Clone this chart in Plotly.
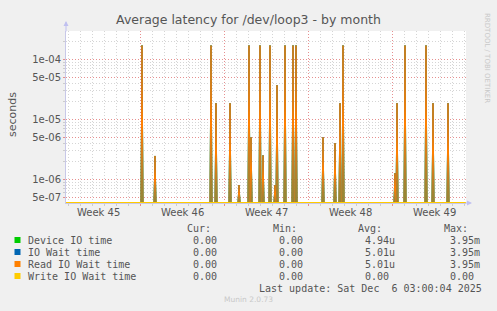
import plotly.graph_objects as go
import pandas as pd

# ---------------- data ----------------
start_time = "2025-11-02 19:00"
end_time = "2025-12-06 03:00"

spike_times = [
    "2025-11-09 03:00", "2025-11-10 05:00", "2025-11-14 21:00", "2025-11-15 07:00",
    "2025-11-16 11:00", "2025-11-17 05:00", "2025-11-18 01:00", "2025-11-18 05:00",
    "2025-11-18 23:00", "2025-11-19 05:00", "2025-11-19 19:00", "2025-11-20 05:00",
    "2025-11-20 09:00", "2025-11-21 01:00", "2025-11-21 17:00", "2025-11-21 23:00",
    "2025-11-24 05:00", "2025-11-25 05:00", "2025-11-25 15:00", "2025-11-25 21:00",
    "2025-11-30 05:00", "2025-11-30 09:00", "2025-12-01 01:00", "2025-12-02 19:00",
    "2025-12-03 09:00", "2025-12-04 15:00",
]
device_io_time = [
    1.7e-4, 2.45e-6, 1.7e-4, 1.85e-5,
    1.85e-5, 8e-7, 1.7e-4, 5e-6,
    1.7e-4, 2.5e-6, 1.7e-4, 8e-7,
    3.7e-5, 1.7e-4, 1.7e-4, 1.7e-4,
    5e-6, 4e-6, 1.85e-5, 1.7e-4,
    1.26e-6, 1.85e-5, 1.7e-4, 1.7e-4,
    1.85e-5, 1.85e-5,
]
io_wait_time = list(device_io_time)
read_io_wait_time = list(device_io_time)
write_io_wait_time = [0.0] * len(spike_times)

week_bounds = ["2025-11-09", "2025-11-16", "2025-11-23", "2025-11-30"]
week_label_pos = ["2025-11-05 12:00", "2025-11-12 12:00", "2025-11-19 12:00",
                  "2025-11-26 12:00", "2025-12-03 12:00"]
week_labels = ["Week 45", "Week 46", "Week 47", "Week 48", "Week 49"]

y_tickvals = [5e-7, 1e-6, 5e-6, 1e-5, 5e-5, 1e-4]
y_ticktext = ["5e-07", "1e-06", "5e-06", "1e-05", "5e-05", "1e-04"]

legend_names = ["Device IO time", "IO Wait time", "Read IO Wait time", "Write IO Wait time"]
legend_colors = ["#00CC00", "#0066B3", "#FF8000", "#FFCC00"]
cur_vals = ["0.00", "0.00", "0.00", "0.00"]
min_vals = ["0.00", "0.00", "0.00", "0.00"]
avg_vals = ["4.94u", "5.01u", "5.01u", "0.00"]
max_vals = ["3.95m", "3.95m", "3.95m", "0.00"]
last_update = "Last update: Sat Dec\u00a0\u00a06 03:00:04 2025"

# ---------------- geometry ----------------
W, H = 497, 311
ML, MR, MT, MB = 66, 31, 31, 108
PW, PH = W - ML - MR, H - MT - MB
Y_RANGE = [-6.395, -3.528]
FLOOR = 10 ** (-6.387)


def px(x):
    return (x - ML) / PW


def py(y):
    return (H - MB - y) / PH


grid = pd.date_range(start_time, end_time, freq="2h")


def build(vals):
    s = pd.Series(0.0, index=grid)
    for t, v in zip(spike_times, vals):
        s[pd.Timestamp(t)] = v
    return s.where(s > 0, FLOOR)


fig = go.Figure()
# floor baseline (for the shaded spike bodies)
base = pd.Series(FLOOR, index=grid)
fig.add_trace(go.Scatter(x=base.index, y=base.values, mode="lines",
                         line=dict(width=0), showlegend=False, hoverinfo="skip"))
fills = ["rgba(150,140,40,0.75)", None, None, None]
for name, vals, col, fc in zip(legend_names,
                               [device_io_time, io_wait_time, read_io_wait_time, write_io_wait_time],
                               legend_colors, fills):
    s = build(vals)
    kw = {}
    if fc:
        kw = dict(fill="tonexty", fillcolor=fc)
    fig.add_trace(go.Scatter(x=s.index, y=s.values, mode="lines", name=name,
                             line=dict(color=col, width=1), showlegend=False,
                             hoverinfo="skip", **kw))

GRAY_GRID = "rgba(190,190,190,0.65)"
RED_GRID = "rgba(235,120,120,0.75)"
TXT = "#555555"
MONO = "DejaVu Sans Mono"
SANS = "DejaVu Sans"

fig.update_layout(
    width=W, height=H,
    margin=dict(l=ML, r=MR, t=MT, b=MB),
    paper_bgcolor="#F0F0F0", plot_bgcolor="#FFFFFF",
    title=dict(text="Average latency for /dev/loop3 - by month",
               x=0.5, xref="container", xanchor="center",
               y=1 - 19.5 / H, yref="container", yanchor="middle",
               font=dict(family=SANS, size=12.5, color=TXT)),
    xaxis=dict(type="date", range=[start_time, end_time],
               tickmode="array", tickvals=week_bounds, showticklabels=False,
               showgrid=True, gridcolor=RED_GRID, griddash="1px,2px", gridwidth=1,
               ticks="outside", ticklen=2, tickcolor=RED_GRID,
               showline=True, linecolor="#C8C8E8", linewidth=1, zeroline=False,
               minor=dict(dtick=86400000, tick0="2025-11-03", showgrid=True,
                          gridcolor=GRAY_GRID, griddash="1px,2px", gridwidth=1,
                          ticks="outside", ticklen=2, tickcolor="#CCCCCC")),
    yaxis=dict(type="log", range=Y_RANGE,
               tickmode="array", tickvals=y_tickvals, ticktext=y_ticktext,
               tickfont=dict(family=SANS, size=10, color=TXT),
               showgrid=True, gridcolor=RED_GRID, griddash="1px,2px", gridwidth=1,
               ticks="outside", ticklen=2, tickcolor=RED_GRID,
               showline=True, linecolor="#C8C8E8", linewidth=1, zeroline=False,
               minor=dict(dtick="D1", showgrid=True,
                          gridcolor=GRAY_GRID, griddash="1px,2px", gridwidth=1,
                          ticks="outside", ticklen=2, tickcolor="#CCCCCC")),
)

ann = []
ann.append(dict(text="seconds", xref="paper", yref="paper", x=px(12), y=py(115),
                showarrow=False, textangle=-90, xanchor="center", yanchor="middle",
                font=dict(family=SANS, size=11, color=TXT)))
for pos, lab in zip(week_label_pos, week_labels):
    ann.append(dict(text=lab, xref="x", yref="paper", x=pos, y=py(212.5),
                    showarrow=False, xanchor="center", yanchor="middle",
                    font=dict(family=SANS, size=10, color=TXT)))
for txt, xr in zip(["Cur:", "Min:", "Avg:", "Max:"], [213, 299, 384, 470]):
    ann.append(dict(text=txt, xref="paper", yref="paper", x=px(xr), y=py(228),
                    showarrow=False, xanchor="right", yanchor="middle",
                    font=dict(family=MONO, size=10, color=TXT)))
row_y = [240, 252, 264, 276]
shapes = []
for i, (name, col) in enumerate(zip(legend_names, legend_colors)):
    yy = row_y[i]
    shapes.append(dict(type="rect", xref="paper", yref="paper",
                       x0=px(14.5), x1=px(20.5), y0=py(yy + 3), y1=py(yy - 3),
                       fillcolor=col, line=dict(width=0)))
    ann.append(dict(text=name, xref="paper", yref="paper", x=px(26), y=py(yy),
                    showarrow=False, xanchor="left", yanchor="middle",
                    font=dict(family=MONO, size=10, color=TXT)))
    for vals, xr in zip([cur_vals, min_vals, avg_vals, max_vals], [225, 311, 397, 482]):
        v = vals[i]
        if not v[-1].isalpha():
            v = v + "\u00a0"
        ann.append(dict(text=v, xref="paper", yref="paper", x=px(xr), y=py(yy),
                        showarrow=False, xanchor="right", yanchor="middle",
                        font=dict(family=MONO, size=10, color=TXT)))
ann.append(dict(text=last_update, xref="paper", yref="paper", x=px(483.5), y=py(288),
                showarrow=False, xanchor="right", yanchor="middle",
                font=dict(family=MONO, size=10, color=TXT)))
ann.append(dict(text="Munin 2.0.73", xref="paper", yref="paper", x=px(248), y=py(299.5),
                showarrow=False, xanchor="center", yanchor="middle",
                font=dict(family=SANS, size=7.5, color="#C8C8C8")))
ann.append(dict(text="RRDTOOL / TOBI OETIKER", xref="paper", yref="paper", x=px(487), y=py(58),
                showarrow=False, textangle=90, xanchor="center", yanchor="middle",
                font=dict(family=SANS, size=7, color="#C8C8C8")))
ann.append(dict(text="", xref="paper", yref="paper", x=px(66), y=py(21),
                showarrow=True, ax=0, ay=12, arrowhead=2, arrowsize=1, arrowwidth=1,
                arrowcolor="#C0C0F0"))
ann.append(dict(text="", xref="paper", yref="paper", x=px(472), y=py(203),
                showarrow=True, ax=-8, ay=0, arrowhead=2, arrowsize=1, arrowwidth=1,
                arrowcolor="#C0C0F0"))

fig.update_layout(annotations=ann, shapes=shapes)
fig.write_html("out.html")
